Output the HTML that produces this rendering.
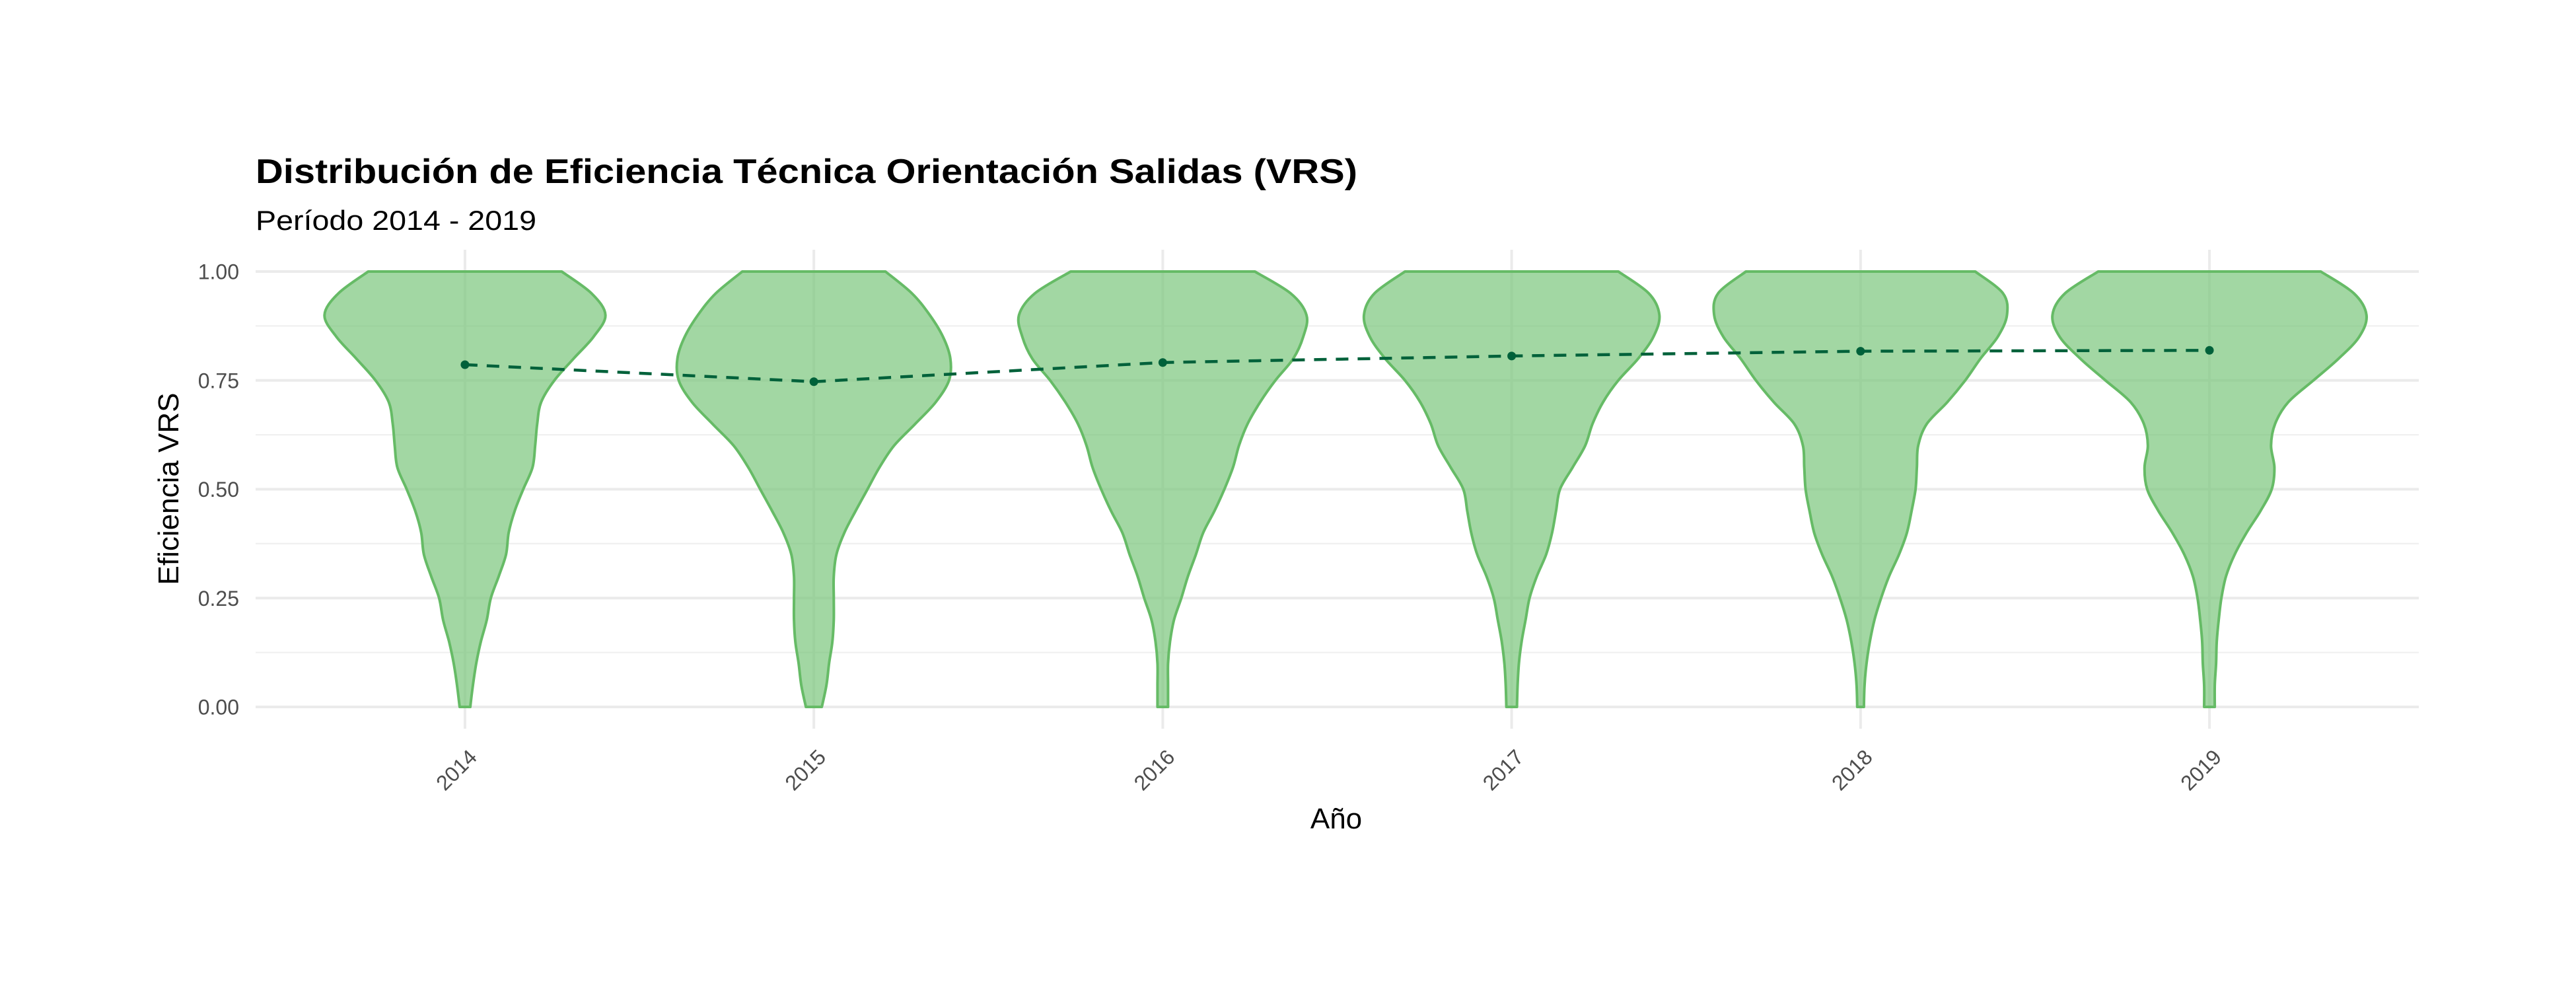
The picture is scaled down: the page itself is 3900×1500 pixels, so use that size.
<!DOCTYPE html>
<html><head><meta charset="utf-8"><style>
html,body{margin:0;padding:0;background:#fff;}
svg{display:block;}
text{font-family:"Liberation Sans",Arial,sans-serif;}
</style></head>
<body>
<svg id="chart" width="3900" height="1500" viewBox="0 0 3900 1500" xmlns="http://www.w3.org/2000/svg">
<rect width="3900" height="1500" fill="#ffffff"/>
<g id="grid"></g>
<g id="violins"></g>
<g id="meanline"></g>
<g id="axes"></g>
<text x="387" y="277" font-size="52" font-weight="bold" fill="#000" textLength="1668" lengthAdjust="spacingAndGlyphs">Distribución de Eficiencia Técnica Orientación Salidas (VRS)</text>
<text x="387" y="348" font-size="42" fill="#000" textLength="425" lengthAdjust="spacingAndGlyphs">Período 2014 - 2019</text>
<text x="2023" y="1254" font-size="44" fill="#000" text-anchor="middle">Año</text>
<text transform="translate(270,740) rotate(-90)" font-size="44" fill="#000" text-anchor="middle">Eficiencia VRS</text>
</svg>
<script>
const categories = ["2014","2015","2016","2017","2018","2019"];
const levels = [1.0,0.95,0.9,0.85,0.8,0.75,0.7,0.65,0.6,0.55,0.5,0.45,0.4,0.35,0.3,0.25,0.2,0.15,0.1,0.05,0.0];
const density2014 = [146,191,212,194,164,135,115,109,106,102,88,75,66,62,51,39,33,24,17,12,8];
const density2015 = [108,148,175,195,206,204,184,153,121,99,81,63,46,34,30,30,30,28,23,19,12];
const density2016 = [139,193,217,212,197,170,147,128,115,106,93,78,61,50,38,28,17,11,8,8,8];
const density2017 = [161,207,223,214,191,161,138,122,111,92,73,67,61,52,38,27,21,15,11,9,8];
const density2018 = [173,215,221,207,181,158,131,100,87,85,83,77,70,58,43,31,21,14,9,6,5];
const density2019 = [168,218,237,226,195,157,119,99,93,98,94,77,56,38,25,18,14,11,10,8,8];
const densities = [density2014,density2015,density2016,density2017,density2018,density2019];
const means = [0.786,0.747,0.791,0.806,0.817,0.819];
const yTicks = [0,0.25,0.5,0.75,1.0];
const yTickLabels = ["0.00","0.25","0.50","0.75","1.00"];
const yMinor = [0.125,0.375,0.625,0.875];

const NS = "http://www.w3.org/2000/svg";
const panel = {left:387, right:3662, top:378, bottom:1103};
const band = (panel.right - panel.left) / (categories.length + 0.2);
function xScale(i){ return panel.left + band*(i + 0.6); }
function yScale(v){ return 1070 - 659*v; }
const densMax = Math.max(...densities.map(d=>Math.max(...d)));
function wScale(d){ return d/densMax*0.45*band; }
function mk(tag, attrs, parent){ const e=document.createElementNS(NS,tag); for(const k in attrs) e.setAttribute(k,attrs[k]); parent.appendChild(e); return e; }

const grid = document.getElementById('grid');
yMinor.forEach(v=>{
  const l = mk('line',{x1:panel.left,x2:panel.right,y1:yScale(v),y2:yScale(v),stroke:'#f0f0f0','stroke-width':2.2},grid);
  
  
});
yTicks.forEach(v=>{
  const l = mk('line',{x1:panel.left,x2:panel.right,y1:yScale(v),y2:yScale(v),stroke:'#ebebeb','stroke-width':4},grid);
  
  
});
categories.forEach((c,i)=>{
  const l = mk('line',{x1:xScale(i),x2:xScale(i),y1:panel.top,y2:panel.bottom,stroke:'#ebebeb','stroke-width':4},grid);
  
  
});

// smooth curve via Catmull-Rom
function smoothPath(pts){
  let d = "";
  for(let i=0;i<pts.length-1;i++){
    const p0=pts[Math.max(0,i-1)], p1=pts[i], p2=pts[i+1], p3=pts[Math.min(pts.length-1,i+2)];
    const c1=[p1[0]+(p2[0]-p0[0])/6, p1[1]+(p2[1]-p0[1])/6];
    const c2=[p2[0]-(p3[0]-p1[0])/6, p2[1]-(p3[1]-p1[1])/6];
    d += ` C${c1[0].toFixed(1)},${c1[1].toFixed(1)} ${c2[0].toFixed(1)},${c2[1].toFixed(1)} ${p2[0].toFixed(1)},${p2[1].toFixed(1)}`;
  }
  return d;
}
const vg = document.getElementById('violins');
densities.forEach((dens,i)=>{
  const cx = xScale(i);
  const right = levels.map((v,k)=>[cx + wScale(dens[k]), yScale(v)]);
  const left = levels.map((v,k)=>[cx - wScale(dens[k]), yScale(v)]).reverse();
  let d = `M${left[left.length-1][0].toFixed(1)},${right[0][1].toFixed(1)} L${right[0][0].toFixed(1)},${right[0][1].toFixed(1)}`;
  d += smoothPath(right);
  d += ` L${left[0][0].toFixed(1)},${left[0][1].toFixed(1)}`;
  d += smoothPath(left);
  d += " Z";
  const p = mk('path',{d:d,fill:'#74c476','fill-opacity':0.67,stroke:'#66bb66','stroke-width':4,'stroke-linejoin':'round'},vg);
  
  
});

const ml = document.getElementById('meanline');
const pts = means.map((m,i)=>`${xScale(i).toFixed(1)},${yScale(m).toFixed(1)}`).join(' ');
const pl = mk('polyline',{points:pts,fill:'none',stroke:'#00613a','stroke-width':4.5,'stroke-dasharray':'19 14'},ml);


means.forEach((m,i)=>{
  const c = mk('circle',{cx:xScale(i),cy:yScale(m),r:6.5,fill:'#00613a'},ml);
  
  
});

const ax = document.getElementById('axes');
yTicks.forEach((v,k)=>{
  const t = mk('text',{x:362,y:yScale(v)+11.5,'font-size':32,fill:'#4d4d4d','text-anchor':'end'},ax);
  t.textContent = yTickLabels[k];
  
  
});
categories.forEach((c,i)=>{
  const x = xScale(i)+20, y = 1148;
  const t = mk('text',{transform:`translate(${x.toFixed(1)},${y}) rotate(-45)`,'font-size':32,fill:'#4d4d4d','text-anchor':'end'},ax);
  t.textContent = c;
  
  
});
</script>
</body></html>
